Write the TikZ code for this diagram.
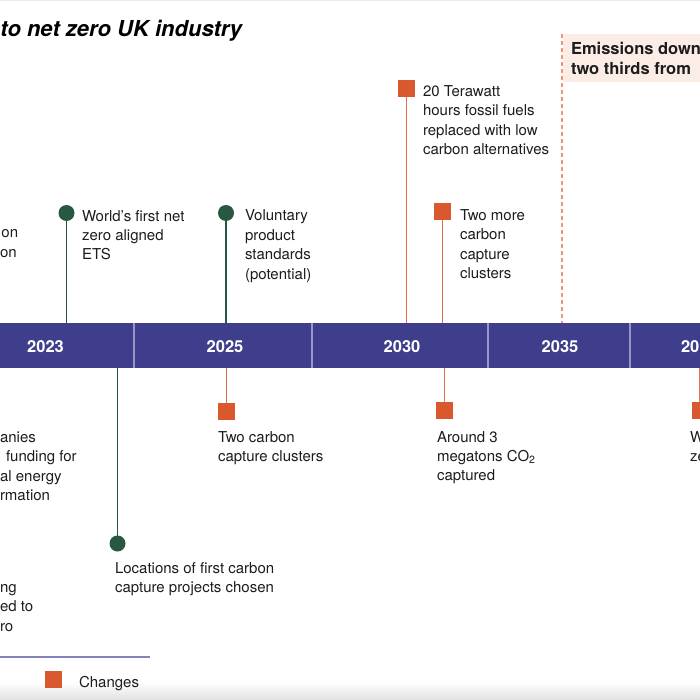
\documentclass[tikz,border=0pt]{standalone}
\usepackage{fontspec}
\setmainfont{TeX Gyre Heros}
\usetikzlibrary{positioning}

\definecolor{barblue}{RGB}{62,62,140}
\definecolor{divblue}{RGB}{150,150,200}
\definecolor{dotgreen}{RGB}{40,88,66}
\definecolor{sqorange}{RGB}{217,88,45}
\definecolor{lineorange}{RGB}{226,112,74}
\definecolor{dashorange}{RGB}{238,150,120}
\definecolor{boxpink}{RGB}{251,236,229}
\definecolor{inkgrey}{RGB}{28,28,28}

\newcommand{\bodyfont}{\fontsize{15}{19.4}\selectfont}
\newcommand{\yearfont}{\fontsize{16.5}{20}\selectfont\bfseries}

\begin{document}
\begin{tikzpicture}[x = 1pt, y = -1pt, % one unit per pixel, y runs down
        every node/.style = {inner sep = 0pt, outer sep = 0pt},
        gdot/.style = {circle, fill = dotgreen, minimum size = 16pt}, % policy marker
        osq/.style = {rectangle, fill = sqorange, minimum size = 17pt}, % change marker
        gline/.style = {draw = dotgreen, line width = 1.3pt},
        oline/.style = {draw = lineorange, line width = 1.5pt},
        % texts sit on the baseline of their LAST line
        txt/.style = {anchor = base west, align = left, font = \bodyfont, text = inkgrey},
        seg/.style = {rectangle, fill = barblue, minimum height = 45pt,
            anchor = north west},
        yr/.style = {anchor = base, text = white, font = \yearfont}
    ]

    \useasboundingbox (0,0) rectangle (700,700);
    \clip (0,0) rectangle (700,700);

    % title and frame shadows
    \draw[black!8] (0,0.5) -- (700,0.5);
    \shade[top color = white, bottom color = black!12] (0,682) rectangle (700,700);
    \node[anchor = base west, font = \fontsize{22}{26}\selectfont\bfseries\itshape]
        (title) at (0.5,37) {to net zero UK industry};

    % timeline bar
    \foreach \name/\x/\w in {s1/0/134, s2/134/178, s3/312/176, s4/488/142, s5/630/80}
        \node[seg, minimum width = \w pt] (\name) at (\x,323) {};
    \foreach \name in {s1,s2,s3,s4}
        \draw[divblue, line width = 1.5pt] (\name.north east) -- (\name.south east);
    \node[yr] (y23) at (45.5,352) {2023}; \node[yr] (y25) at (225,352) {2025};
    \node[yr] (y30) at (402,352) {2030}; \node[yr] (y35) at (560,352) {2035};
    \node[yr, anchor = base west] (y40) at (681,352) {20};

    % 2035 target
    \fill[boxpink] (563,34) rectangle (705,82);
    \coordinate (tgt) at (562,34);
    \draw[dashorange, line width = 1.3pt, dash pattern = on 4pt off 3pt]
        (tgt) -- (tgt |- s4.north);
    \node[anchor = base west, align = left, font = \fontsize{16.5}{20}\selectfont\bfseries,
        text = inkgrey] (tgttxt) at (571,75) {Emissions down\\two thirds from};

    % cut-off texts on the left
    \node[txt] (l1) at (1.5,238) {on}; \node[txt] (l2) at (0,257.5) {on};
    \node[txt] (l3) at (0,442.5) {anies}; \node[txt] (l4) at (6,461.8) {funding for};
    \node[txt] (l5) at (0,481.2) {al energy}; \node[txt] (l6) at (0,500.5) {rmation};
    \node[txt] (l7) at (0,592) {ng}; \node[txt] (l8) at (0,611.5) {ed to};
    \node[txt] (l9) at (0,631) {ro};

    % policies above the bar
    \node[gdot] (ets) at (66.5,213) {};
    \node[txt] (etstxt) at (82,259.8) {World’s first net\\zero aligned\\ETS};
    \draw[gline] (ets) -- (ets |- s1.north);
    \node[gdot] (vps) at (226,213) {};
    \node[txt] (vpstxt) at (245,279.2) {Voluntary\\product\\standards\\(potential)};
    \draw[gline] (vps) -- (vps |- s2.north);

    % policies below the bar
    \node[gdot] (loc) at (117.5,543.5) {};
    \node[txt] (loctxt) at (115,592.4) {Locations of first carbon\\capture projects chosen};
    \draw[gline] (s1.south -| loc) -- (loc);

    % changes above the bar
    \node[osq] (twh) at (406.5,89) {};
    \node[txt] (twhtxt) at (423,154.5) {20 Terawatt\\hours fossil fuels\\replaced with low\\carbon alternatives};
    \draw[oline] (twh) -- (twh |- s3.north);
    \node[osq] (ccs2) at (442.5,211.5) {};
    \node[txt] (ccs2txt) at (460,278.7) {Two more\\carbon\\capture\\clusters};
    \draw[oline] (ccs2) -- (ccs2 |- s3.north);

    % changes below the bar
    \node[osq] (ccs1) at (226.5,411.5) {};
    \node[txt] (ccs1txt) at (218,461.4) {Two carbon\\capture clusters};
    \draw[oline] (s2.south -| ccs1) -- (ccs1);
    \node[osq] (mt) at (444.5,410.5) {};
    \node[txt] (mttxt) at (437,480.8) {Around 3\\megatons CO\textsubscript{2}\\captured};
    \draw[oline] (s3.south -| mt) -- (mt);
    \node[osq] (wz) at (700,410.5) {};
    \node[txt] (wztxt) at (690,461.4) {W\\ze};
    \draw[oline] (s5.south -| wz) -- (wz);

    % legend
    \draw[divblue!80!barblue, line width = 1.2pt] (0,657) -- (150,657);
    \node[osq] (key) at (53.5,679.5) {};
    \node[txt] (keytxt) at (79,687) {Changes};
\end{tikzpicture}
\end{document}
